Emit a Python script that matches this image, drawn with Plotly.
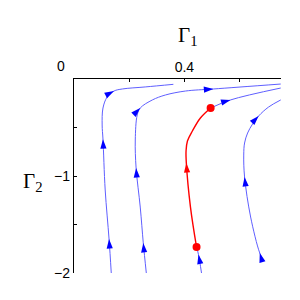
import math
import plotly.graph_objects as go

# ---- data ----
c1_x = [0.135, 0.127, 0.113, 0.105, 0.102, 0.105, 0.120, 0.145, 0.175, 0.258, 0.360]
c1_y = [-2.0, -1.65, -1.144, -0.62, -0.474, -0.299, -0.186, -0.124, -0.103, -0.082, -0.055]
c1_arrows = [1, 3, 7]

c2_x = [0.262, 0.251, 0.240, 0.225, 0.222, 0.229, 0.240, 0.284, 0.331, 0.404, 0.505, 0.749]
c2_y = [-2.0, -1.69, -1.320, -0.918, -0.629, -0.371, -0.299, -0.216, -0.165, -0.124, -0.103, -0.052]
c2_arrows = [1, 3, 6, 10]

c3_x = [0.462, 0.451, 0.444, 0.422, 0.407, 0.406, 0.411, 0.429, 0.458, 0.495, 0.567, 0.749]
c3_y = [-2.0, -1.81, -1.732, -1.320, -0.866, -0.740, -0.640, -0.536, -0.402, -0.299, -0.216, -0.093]
c3_arrows = [1, 4, 10]
c3_red_start = 2   # index of lower red dot
c3_red_end = 9     # index of upper red dot

c4_x = [0.687, 0.673, 0.640, 0.618, 0.615, 0.618, 0.629, 0.647, 0.669, 0.705, 0.749]
c4_y = [-1.876, -1.794, -1.423, -1.010, -0.784, -0.660, -0.557, -0.464, -0.381, -0.289, -0.216]
c4_arrows = [1, 3, 8]

x_ticks = [0.2, 0.4, 0.6]
x_ticktext = ["", "0.4", ""]
y_ticks = [0, -0.5, -1, -1.5, -2]
y_ticktext = ["", "", "\u22121", "", "\u22122"]

# ---- layout geometry ----
W, H = 300, 300
ML, MR, MT, MB = 74, 19, 79, 27
XR = [0, 0.75]
YR = [-2, 0]
sx = (W - ML - MR) / (XR[1] - XR[0])
sy = (H - MT - MB) / (YR[1] - YR[0])

BLUE_LINE = "rgb(95,95,255)"
BLUE = "rgb(0,0,255)"
RED = "rgb(255,0,0)"

fig = go.Figure()


def add_line(xs, ys, color, width):
    fig.add_trace(go.Scatter(x=xs, y=ys, mode="lines",
                             line=dict(color=color, width=width, shape="spline", smoothing=1.0),
                             hoverinfo="skip", showlegend=False))


def add_arrows(xs, ys, idx, color):
    ax, ay, ang = [], [], []
    for i in idx:
        i0 = max(i - 1, 0)
        i1 = min(i + 1, len(xs) - 1)
        dx = (xs[i1] - xs[i0]) * sx
        dy = (ys[i1] - ys[i0]) * sy
        ax.append(xs[i])
        ay.append(ys[i])
        ang.append(math.degrees(math.atan2(dx, dy)))
    fig.add_trace(go.Scatter(x=ax, y=ay, mode="markers",
                             marker=dict(symbol="arrow", size=10, angle=ang, color=color,
                                         line=dict(width=0)),
                             hoverinfo="skip", showlegend=False))


add_line(c1_x, c1_y, BLUE_LINE, 1)
add_line(c2_x, c2_y, BLUE_LINE, 1)
add_line(c3_x[:c3_red_start + 1], c3_y[:c3_red_start + 1], BLUE_LINE, 1)
add_line(c3_x[c3_red_end:], c3_y[c3_red_end:], BLUE_LINE, 1)
add_line(c3_x[c3_red_start:c3_red_end + 1], c3_y[c3_red_start:c3_red_end + 1], RED, 1.4)
add_line(c4_x, c4_y, BLUE_LINE, 1)

add_arrows(c1_x, c1_y, c1_arrows, BLUE)
add_arrows(c2_x, c2_y, c2_arrows, BLUE)
red_arrows = [i for i in c3_arrows if c3_red_start < i < c3_red_end]
blue_arrows3 = [i for i in c3_arrows if not (c3_red_start < i < c3_red_end)]
add_arrows(c3_x, c3_y, blue_arrows3, BLUE)
add_arrows(c3_x, c3_y, red_arrows, RED)
add_arrows(c4_x, c4_y, c4_arrows, BLUE)

fig.add_trace(go.Scatter(x=[c3_x[c3_red_start], c3_x[c3_red_end]],
                         y=[c3_y[c3_red_start], c3_y[c3_red_end]],
                         mode="markers", marker=dict(color=RED, size=8),
                         hoverinfo="skip", showlegend=False))

tickfont = dict(family="Liberation Sans, Arial, sans-serif", size=14, color="black")
fig.update_layout(
    width=W, height=H,
    margin=dict(l=ML, r=MR, t=MT, b=MB),
    paper_bgcolor="white", plot_bgcolor="white",
    xaxis=dict(range=XR, side="top", showline=True, linecolor="black", linewidth=1.3,
               ticks="inside", ticklen=3, tickcolor="black", tickvals=x_ticks,
               ticktext=x_ticktext, showgrid=False, zeroline=False, tickfont=tickfont),
    yaxis=dict(range=YR, showline=True, linecolor="black", linewidth=1.3,
               ticks="inside", ticklen=3, tickcolor="black", tickvals=y_ticks,
               ticktext=y_ticktext, showgrid=False, zeroline=False, tickfont=tickfont),
    annotations=[
        dict(text="0", x=(61 - ML) / (W - ML - MR), y=(H - 66 - MB) / (H - MT - MB),
             xref="paper", yref="paper", showarrow=False, font=tickfont,
             xanchor="center", yanchor="middle"),
        dict(text="\u0393<sub>1</sub>", x=(187 - ML) / (W - ML - MR),
             y=(H - 36 - MB) / (H - MT - MB), xref="paper", yref="paper", showarrow=False,
             font=dict(family="Liberation Serif, Times New Roman, serif", size=21, color="black"),
             xanchor="center", yanchor="middle"),
        dict(text="\u0393<sub>2</sub>", x=(32 - ML) / (W - ML - MR),
             y=(H - 182 - MB) / (H - MT - MB), xref="paper", yref="paper", showarrow=False,
             font=dict(family="Liberation Serif, Times New Roman, serif", size=21, color="black"),
             xanchor="center", yanchor="middle"),
    ],
)

fig.write_html("out.html", config={"displayModeBar": False},
               post_script="document.body.style.margin='0px';")
